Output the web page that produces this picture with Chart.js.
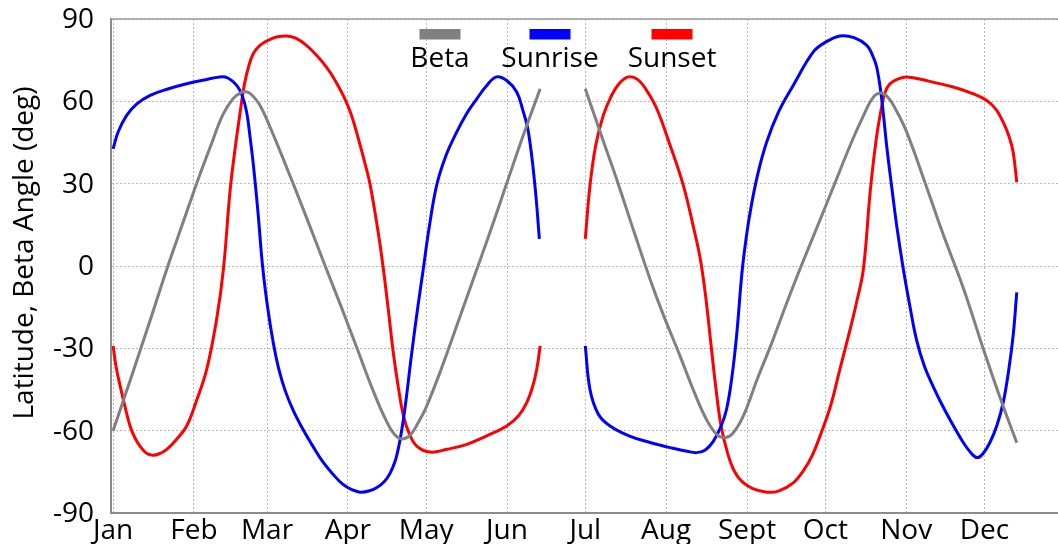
<!DOCTYPE html>
<html>
<head>
<meta charset="utf-8">
<script src="https://cdn.jsdelivr.net/npm/chart.js@4/dist/chart.umd.min.js"></script>
<style>
  html, body { margin: 0; padding: 0; background: #fff; overflow: hidden; }
  #wrap { width: 1058px; height: 544px; position: relative; }
</style>
</head>
<body>
<div id="wrap"><canvas id="betaChart"></canvas></div>
<script>
// x axis: day of year, labelled at the first of each month
var monthDays = [0, 31, 59, 90, 120, 151, 181, 212, 243, 273, 304, 334];
var monthLabels = ['Jan', 'Feb', 'Mar', 'Apr', 'May', 'Jun', 'Jul', 'Aug', 'Sept', 'Oct', 'Nov', 'Dec'];
var yTicks = [-90, -60, -30, 0, 30, 60, 90];
var yTitle = 'Latitude, Beta Angle (deg)';
var seriesNames = ['Beta', 'Sunrise', 'Sunset'];

// null at day 172 = the gap between mid June and July
var betaDays = [0,5,10.3,15.5,21,26.5,32,37.5,42,46,49,51,53,56,60,66.5,74,81.3,87.5,93.5,99.5,104.5,108,111,114,117,120,126,132,138,144,150.6,157,163.7,
  172,
  181,187,193.6,199.5,205.8,211,217,223,227.5,231.5,234.6,237.5,241.6,247,252.5,258,263.3,270,276.6,283,288,291,294,297,300,304.2,311,318,325.9,333.6,340,346.4];
var betaValues = [-60,-46,-31,-16,0,15,30,44,55,61,63.2,63.5,62.5,59,51,36,18,0,-15,-30,-45,-56,-61.5,-63,-61.5,-57,-51.5,-37,-21,-5,11,29.3,47,64.6,
  null,
  64.6,48,30,13,-4.7,-18,-32,-46.5,-56,-61.5,-62.5,-61,-54.6,-41,-28,-14,-1.1,14.5,30,45,55.5,61,63,61.5,57,48.8,31,12,-8,-30.3,-48,-64.4];

var sunriseDays = [0,2,5.2,9,14.2,21,28.2,35,41,44,47.4,49.5,51.2,52.5,53.8,55.5,57.3,59.3,61.4,63.5,66,69,72.5,76.8,80.5,84.4,88,91.5,94.7,98,101,104,106.2,108.7,111.3,114.5,116.8,118.9,121,124,127.5,131.7,135.5,139.4,143,147,151,154.7,157,159.2,161.7,163.4,
  172,
  181,182.8,186,190.5,198,205.8,215,220,223.7,227,230,233,235.2,237.2,239,241,242.5,244.2,247,250.5,255,260.7,268.4,273,278.6,284,288.9,291,292.7,294.6,296.5,298.5,300.4,302.9,305.5,308,311,314.4,318,322,326,329.7,331.5,333.5,336.1,338.8,341.2,343.3,345,346.4];
var sunriseValues = [42.7,49,54.9,59,62.2,64.5,66.4,67.8,68.9,68.5,65.8,62,56,47,36.6,20,0,-15.5,-28,-37.5,-45.5,-52.5,-59,-66,-71.5,-76,-79.5,-81.5,-82.4,-82,-80.8,-78.5,-75.5,-69.2,-55.8,-31.5,-15,-1.1,13,29.3,40,48.8,55.5,60.9,65.5,68.9,67.5,63.4,57,48.8,29.3,9.9,
  null,
  -29.1,-45,-54,-58.3,-62,-64.3,-66.5,-67.5,-68,-67,-64,-58.5,-52,-40.5,-25.4,-3,9,19.6,33,45.1,56,65.8,78,81.5,83.8,83.2,80.4,77,72.5,61,44,28.5,14.5,-1.1,-15,-27,-36.5,-44,-51,-58,-64.5,-69,-69.8,-68.3,-64.3,-58,-49.7,-38,-25.4,-9.6];

var sunsetDays = [0,1.2,2.7,4.5,6.5,8.3,10.3,12.5,14.8,17.5,20.6,24.5,28.2,32,35.9,39.7,42.3,44.8,46.8,48.7,50.3,51.9,53.8,56.3,60,63,66.6,70,74,78,82,85,88.3,90.8,92.8,94.7,96.8,98.5,101.5,103.6,105.5,107.4,109.3,111.3,113.5,116.4,121.5,128,135.6,143,150.9,155.5,158.6,160.8,162.4,163.7,
  172,
  181,182.8,185,187.9,191,194,197.5,201,204.5,208.4,213.5,218.6,222.5,225,227,229,231,233,235.5,238,241,245,250.5,255,260.7,265,268,271,275,278.6,282,285,287.6,290.2,292.5,294.6,296,297.8,300.5,304.2,312,322,329,334.9,338.5,341.2,343.5,345,346.4];
var sunsetValues = [-29.1,-37,-43.7,-51,-58.3,-62.5,-65.6,-68,-68.9,-68.5,-66.8,-63,-58.3,-49,-37.6,-19.3,-1.1,27,43,56,66,72.5,77.5,80.4,82.5,83.5,83.8,83,80.5,76.8,72.2,67.8,62,56.5,50.5,44,36.5,29.8,13,-1.1,-16,-31.5,-44,-54.6,-61,-65.6,-67.8,-66.8,-65,-62,-58.3,-54.5,-49.7,-44,-37.6,-29.1,
  null,
  9.9,29.3,44,54.9,62,66.5,68.9,68,64,57.3,44,29.3,14,3,-10,-27,-44,-58,-68,-74.5,-78.5,-81,-82.4,-82,-79,-74,-69,-61.9,-51,-37.6,-25,-13.2,-1.1,27,46,58,63.5,66.4,68,68.9,67.5,65.2,63,60.3,57,52.4,47,41.5,30.5];

function toPoints(days, values) {
  var pts = [];
  for (var i in days) {
    pts.push({ x: days[i], y: values[i] });
  }
  return pts;
}

var FONT = "'Open Sans', 'Noto Sans', sans-serif";

// top frame line, y title and the legend (boxes above the names)
var decorations = {
  id: 'decorations',
  beforeDatasetsDraw: function(chart) {
    var ctx = chart.ctx, area = chart.chartArea;
    ctx.save();
    ctx.strokeStyle = '#9a9a9a';
    ctx.lineWidth = 1.5;
    ctx.beginPath();
    ctx.moveTo(area.left, area.top);
    ctx.lineTo(area.right, area.top);
    ctx.stroke();
    ctx.restore();
  },
  afterDraw: function(chart) {
    var ctx = chart.ctx;
    ctx.save();
    ctx.fillStyle = '#000';
    ctx.font = '28px ' + FONT;
    ctx.translate(33, 253);
    ctx.rotate(-Math.PI / 2);
    ctx.textAlign = 'center';
    ctx.textBaseline = 'alphabetic';
    ctx.fillText(yTitle, 0, 0);
    ctx.restore();

    var centers = [440, 550, 672];
    ctx.save();
    ctx.font = '28px ' + FONT;
    ctx.textAlign = 'center';
    ctx.textBaseline = 'alphabetic';
    chart.data.datasets.forEach(function(ds, i) {
      ctx.fillStyle = ds.borderColor;
      ctx.fillRect(centers[i] - 20.5, 29, 41, 10.5);
      ctx.fillStyle = '#000';
      ctx.fillText(ds.label, centers[i], 66.5);
    });
    ctx.restore();
  }
};

Chart.defaults.font.family = FONT;
Chart.defaults.font.size = 28;
Chart.defaults.color = '#000';

var ctx = document.getElementById('betaChart').getContext('2d');
var chart = new Chart(ctx, {
  type: 'line',
  data: {
    datasets: [{
      label: seriesNames[0],
      data: toPoints(betaDays, betaValues),
      borderColor: '#808080'
    }, {
      label: seriesNames[1],
      data: toPoints(sunriseDays, sunriseValues),
      borderColor: '#0000ff'
    }, {
      label: seriesNames[2],
      data: toPoints(sunsetDays, sunsetValues),
      borderColor: '#ff0000'
    }]
  },
  options: {
    responsive: true,
    maintainAspectRatio: false,
    animation: false,
    devicePixelRatio: 1,
    layout: { padding: { top: 19, left: 0, right: 0, bottom: 0 } },
    elements: {
      line: { borderWidth: 3, tension: 0.4, fill: false, capBezierPoints: true },
      point: { radius: 0, hoverRadius: 0 }
    },
    spanGaps: false,
    plugins: {
      legend: { display: false },
      tooltip: { enabled: false }
    },
    scales: {
      x: {
        type: 'linear',
        min: -0.8,
        max: 362.2,
        afterBuildTicks: function(scale) {
          scale.ticks = monthDays.map(function(d) { return { value: d }; });
        },
        afterFit: function(scale) {
          scale.height = 31;
          scale.paddingLeft = 0;
          scale.paddingRight = 0;
        },
        ticks: {
          autoSkip: false,
          maxRotation: 0,
          padding: 1,
          callback: function(value, index) { return monthLabels[index]; }
        },
        grid: { color: '#b8b8b8', lineWidth: 1, drawTicks: false },
        border: { display: true, color: '#8c8c8c', width: 2, dash: [2, 2] }
      },
      y: {
        min: -90,
        max: 90,
        afterBuildTicks: function(scale) {
          scale.ticks = yTicks.map(function(v) { return { value: v }; });
        },
        afterFit: function(scale) {
          scale.width = 111;
          scale.paddingTop = 0;
          scale.paddingBottom = 0;
        },
        ticks: { padding: 17, labelOffset: 1 },
        grid: { color: '#b8b8b8', lineWidth: 1, drawTicks: false },
        border: { display: true, color: '#8c8c8c', width: 2, dash: [2, 2] }
      }
    }
  },
  plugins: [decorations]
});
</script>
</body>
</html>
